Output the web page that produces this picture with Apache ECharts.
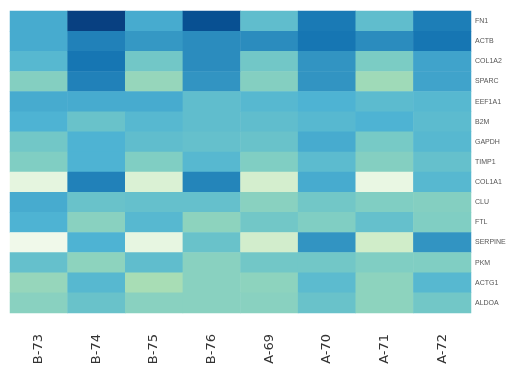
<!DOCTYPE html>
<html><head><meta charset="utf-8">
<script src="https://cdn.jsdelivr.net/npm/echarts@6/dist/echarts.min.js"></script>
<style>html,body{margin:0;padding:0;background:#fff}#c{width:509px;height:369px}</style>
</head><body><div id="c"></div>
<script>
var samples = ['B-73','B-74','B-75','B-76','A-69','A-70','A-71','A-72'];
var genes = ['FN1','ACTB','COL1A2','SPARC','EEF1A1','B2M','GAPDH','TIMP1','COL1A1','CLU','FTL','SERPINE','PKM','ACTG1','ALDOA'];
var FN1    = [5.2, 8.0, 5.2, 7.6, 4.6, 6.5, 4.6, 6.4];
var ACTB   = [5.2, 6.3, 5.7, 6.0, 6.0, 6.6, 6.0, 6.6];
var COL1A2 = [4.8, 6.6, 4.2, 6.0, 4.2, 5.8, 4.0, 5.4];
var SPARC  = [3.8, 6.3, 3.4, 5.8, 3.8, 5.8, 3.2, 5.4];
var EEF1A1 = [5.2, 5.2, 5.2, 4.6, 4.8, 5.0, 4.7, 4.8];
var B2M    = [5.0, 4.4, 4.8, 4.6, 4.6, 4.8, 5.0, 4.7];
var GAPDH  = [4.2, 5.0, 4.6, 4.5, 4.4, 5.2, 4.1, 4.8];
var TIMP1  = [3.9, 5.0, 3.9, 4.8, 3.9, 4.7, 3.8, 4.5];
var COL1A1 = [0.8, 6.3, 1.3, 6.2, 1.6, 5.2, 0.6, 4.8];
var CLU    = [5.2, 4.4, 4.5, 4.5, 3.7, 4.2, 3.9, 3.8];
var FTL    = [5.0, 3.7, 4.8, 3.6, 4.2, 3.9, 4.5, 3.9];
var SERPINE= [0.3, 5.0, 0.7, 4.4, 1.7, 5.8, 1.8, 5.8];
var PKM    = [4.5, 3.6, 4.6, 3.7, 4.2, 4.2, 3.9, 3.9];
var ACTG1  = [3.4, 4.8, 3.0, 3.7, 3.6, 4.7, 3.6, 4.8];
var ALDOA  = [3.7, 4.4, 3.7, 3.7, 3.7, 4.4, 3.6, 4.2];
var rows = [FN1, ACTB, COL1A2, SPARC, EEF1A1, B2M, GAPDH, TIMP1, COL1A1, CLU, FTL, SERPINE, PKM, ACTG1, ALDOA];

var data = [];
rows.forEach(function(r, gi){ r.forEach(function(v, si){ data.push([si, gi, v]); }); });

var chart = echarts.init(document.getElementById('c'));
chart.setOption({
  animation: false,
  grid: {left: 10, right: 38, top: 11, bottom: 56},
  xAxis: {type: 'category', data: samples, axisLine: {show: false}, axisTick: {show: false}, splitLine:{show:false},
    axisLabel: {rotate: 90, margin: 21, fontSize: 13, color: '#333', fontFamily: 'DejaVu Sans, sans-serif'}},
  yAxis: {type: 'category', data: genes, inverse: true, position: 'right', axisLine: {show: false}, axisTick: {show: false},
    axisLabel: {fontSize: 7, color: '#555', margin: 4, fontFamily: 'Liberation Sans, Arial, sans-serif'}},
  visualMap: {show: false, min: 0, max: 8, inRange: {color: ['#f7fcf0','#e0f3db','#ccebc5','#a8ddb5','#7bccc4','#4eb3d3','#2b8cbe','#0868ac','#084081']}},
  series: [{type: 'heatmap', data: data, itemStyle: {borderWidth: 0}}]
});
</script></body></html>
